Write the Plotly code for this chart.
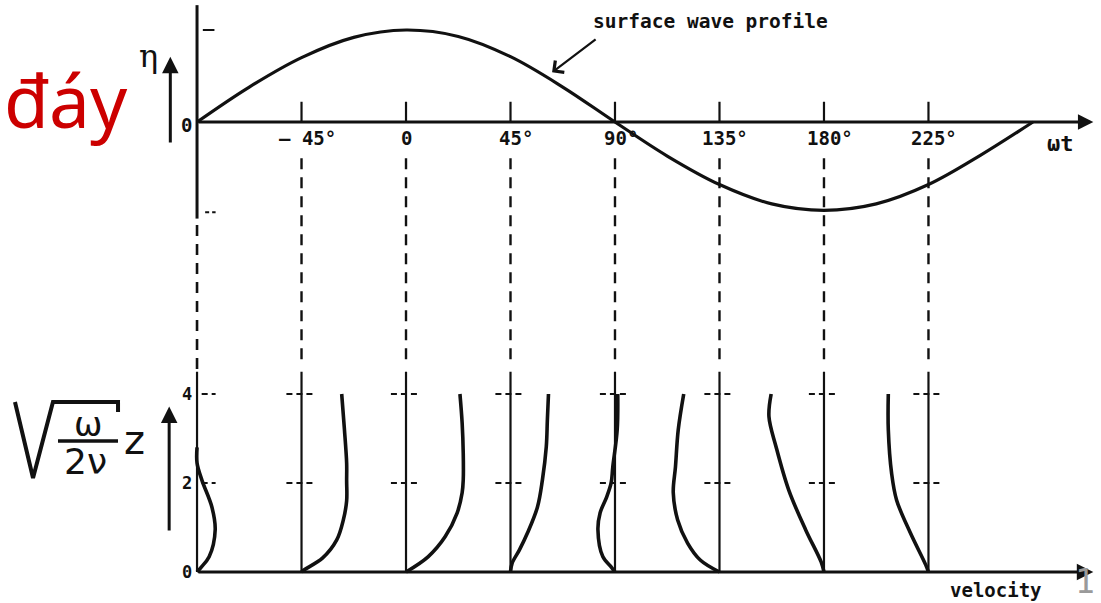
import plotly.graph_objects as go

W, H = 1101, 603

# ---------------------------------------------------------------- data
# phase positions (degrees of ωt) where the velocity profiles are drawn
phases = [-90, -45, 0, 45, 90, 135, 180, 225]
phase_labels = ["", "– 45°", "0", "45°", "90°", "135°", "180°", "225°"]

# surface elevation η/η0 along ωt
wave_phase = [-90, -67.5, -45, -22.5, 0, 22.5, 45, 67.5, 90,
              112.5, 135, 157.5, 180, 202.5, 225, 247.5, 270]
wave_eta = [0.0, 0.38, 0.70, 0.92, 1.00, 0.93, 0.71, 0.38, 0.0,
            -0.37, -0.68, -0.89, -0.96, -0.89, -0.68, -0.36, 0.0]

# amplitude marks on the η axis
eta_marks = [1.0, -0.98]

# height levels marked on every profile axis (sqrt(ω/2ν)·z)
z_levels = [2, 4]
z_tick_labels = ["0", "2", "4"]

# velocity profiles u/U0 against sqrt(ω/2ν)·z, one pair of lists per phase
z_m90 = [0, 0.10, 0.34, 0.95, 1.46, 2.06, 2.45, 2.8]
u_m90 = [0, 0.07, 0.22, 0.33, 0.27, 0.09, 0.0, 0.0]

z_m45 = [0, 0.05, 0.31, 0.72, 1.17, 1.60, 2.06, 2.45, 3.20, 4.00]
u_m45 = [0, 0.05, 0.38, 0.64, 0.76, 0.82, 0.82, 0.82, 0.78, 0.73]

z_0 = [0, 0.34, 0.79, 1.33, 1.78, 2.07, 2.67, 3.35, 4.00]
u_0 = [0, 0.40, 0.71, 0.93, 1.02, 1.04, 1.04, 1.02, 0.98]

z_45 = [0, 0.20, 0.49, 0.88, 1.46, 2.07, 2.81, 3.42, 4.00]
u_45 = [0, 0.03, 0.16, 0.31, 0.49, 0.58, 0.65, 0.67, 0.69]

z_90 = [0, 0.10, 0.34, 0.95, 1.33, 1.69, 2.00, 2.36, 3.20, 4.00]
u_90 = [0, -0.06, -0.22, -0.31, -0.27, -0.15, -0.07, -0.04, 0.04, 0.05]

z_135 = [0, 0.27, 0.65, 1.17, 1.78, 2.36, 3.19, 4.00]
u_135 = [0, -0.35, -0.58, -0.76, -0.84, -0.80, -0.75, -0.65]

z_180 = [0, 0.22, 0.94, 1.84, 2.81, 3.49, 4.00]
u_180 = [0, -0.05, -0.33, -0.64, -0.87, -1.00, -0.96]

z_225 = [0, 0.16, 0.88, 1.62, 2.22, 3.20, 4.00]
u_225 = [0, -0.05, -0.33, -0.58, -0.67, -0.73, -0.73]

profiles_z = [z_m90, z_m45, z_0, z_45, z_90, z_135, z_180, z_225]
profiles_u = [u_m90, u_m45, u_0, u_45, u_90, u_135, u_180, u_225]

# ---------------------------------------------------------------- scales
X_RANGE = [-174.85, 299.3]      # ωt in degrees across the page
ETA_RANGE = [-5.228, 1.326]     # upper panel, η/η0
Z_RANGE = [-0.697, 12.854]      # lower panel, sqrt(ω/2ν)·z
VEL_SCALE = 23.7                # degrees of ωt per unit of u/U0

INK = "#111111"
MONO = "DejaVu Sans Mono"

fig = go.Figure()


def line(x, y, axis="y", width=3.0, dash="solid", shape="linear"):
    fig.add_trace(go.Scatter(
        x=x, y=y, yaxis=axis, mode="lines", hoverinfo="skip",
        line=dict(color=INK, width=width, dash=dash, shape=shape, smoothing=1.0),
    ))


# surface wave
line(wave_phase, wave_eta, width=3.2, shape="spline")

# η axis (solid part) and its amplitude marks
line([-90, -90], [1.27, -1.05], width=3.0)
line([-87.5, -82.5], [eta_marks[0]] * 2, width=2.0)
line([-86.5, -82.0], [eta_marks[1]] * 2, width=2.0, dash="4px,3px")

# phase ticks above the ωt axis
for p in phases[1:]:
    line([p, p], [0, 0.22], width=2.2)

# dashed connectors between the two panels
line([-90, -90], [7.8, 4.49], axis="y2", width=2.6, dash="11px,8px")
for p in phases[1:]:
    line([p, p], [9.3, 4.6], axis="y2", width=2.4, dash="11px,8px")

# profile axes and level marks
for p in phases:
    line([p, p], [0, 4.5], axis="y2", width=2.2)
    for zl in z_levels:
        left = p - 6.5 if p != -90 else p + 2.0
        right = p + 5.5 if p != -90 else p + 8.0
        line([left, right], [zl, zl], axis="y2", width=2.0, dash="6px,4px")

# velocity profiles
for p, zz, uu in zip(phases, profiles_z, profiles_u):
    line([p + u * VEL_SCALE for u in uu], zz, axis="y2", width=3.6, shape="spline")

# axes with arrow heads
arrows = [
    dict(x=296, y=0, ax=-90, ay=0, yref="y", ayref="y", w=2.8),          # ωt axis
    dict(x=296, y=0, ax=-90, ay=0, yref="y2", ayref="y2", w=3.0),        # velocity axis
    dict(x=-101.5, y=0.71, ax=-101.5, ay=-0.24, yref="y", ayref="y", w=3.0),   # η arrow
    dict(x=-102.0, y=3.72, ax=-102.0, ay=0.9, yref="y2", ayref="y2", w=3.0),   # z arrow
]
for a in arrows:
    fig.add_annotation(
        x=a["x"], y=a["y"], ax=a["ax"], ay=a["ay"], xref="x", axref="x",
        yref=a["yref"], ayref=a["ayref"], text="", showarrow=True,
        arrowhead=2, arrowsize=1.1, arrowwidth=a["w"], arrowcolor=INK,
    )

# pointer for the surface profile label
fig.add_annotation(
    x=62.9, y=0.54, ax=82.3, ay=0.91, xref="x", axref="x", yref="y", ayref="y",
    text="", showarrow=True, arrowhead=4, arrowsize=1.3, arrowwidth=2.2,
    arrowcolor=INK,
)

# ---------------------------------------------------------------- text
def label(text, x, y, size, xref="x", yref="y", color=INK, family=MONO,
          xanchor="center", yanchor="middle"):
    fig.add_annotation(
        x=x, y=y, xref=xref, yref=yref, text=text, showarrow=False,
        xanchor=xanchor, yanchor=yanchor,
        font=dict(family=family, size=size, color=color),
    )


for p, t in zip(phases[1:], phase_labels[1:]):
    label(f"<b>{t}</b>", p + (2.5 if t != "0" else 0), -0.17, 19)

label("<b>0</b>", -94.5, -0.03, 19)
label("<b>ωt</b>", 282, -0.23, 22)
label("η", -111, 0.72, 32, family="DejaVu Serif")
label("<b>surface wave profile</b>", 131, 1.09, 19.5)

for zt in z_tick_labels:
    label(f"<b>{zt}</b>", -94.5, float(zt), 17, yref="y2")
label("<b>velocity</b>", 254, -0.40, 19, yref="y2")

label("đáy", 66 / W, 1 - 99 / H, 73, xref="paper", yref="paper",
      color="#cc0000", family="Noto Sans")
label("1", 1085 / W, 0.0, 33, xref="paper", yref="paper",
      color="#9a9a9a", family=MONO, yanchor="bottom")

# radical sign with the fraction ω / 2ν and the height z
def P(x, y):
    return x / W, 1 - y / H


pts = [P(15, 402), P(33, 478), P(53, 402), P(118, 402), P(118, 412)]
path = "M " + " L ".join(f"{a:.4f},{b:.4f}" for a, b in pts)
fig.add_shape(type="path", path=path, xref="paper", yref="paper",
              line=dict(color=INK, width=4))
x0, y0 = P(58, 441)
x1, _ = P(118, 441)
fig.add_shape(type="line", x0=x0, x1=x1, y0=y0, y1=y0, xref="paper",
              yref="paper", line=dict(color=INK, width=3.5))
label("ω", 88 / W, 1 - 424 / H, 34, xref="paper", yref="paper", family="DejaVu Sans")
label("2ν", 85 / W, 1 - 461 / H, 36, xref="paper", yref="paper", family="DejaVu Sans")
label("z", 134 / W, 1 - 440 / H, 40, xref="paper", yref="paper", family="DejaVu Sans")

# ---------------------------------------------------------------- layout
fig.update_layout(
    width=W, height=H, margin=dict(l=0, r=0, t=0, b=0),
    paper_bgcolor="white", plot_bgcolor="white", showlegend=False,
    xaxis=dict(range=X_RANGE, visible=False, fixedrange=True),
    yaxis=dict(range=ETA_RANGE, visible=False, fixedrange=True),
    yaxis2=dict(range=Z_RANGE, visible=False, overlaying="y", fixedrange=True),
)

fig.write_html("out.html")
